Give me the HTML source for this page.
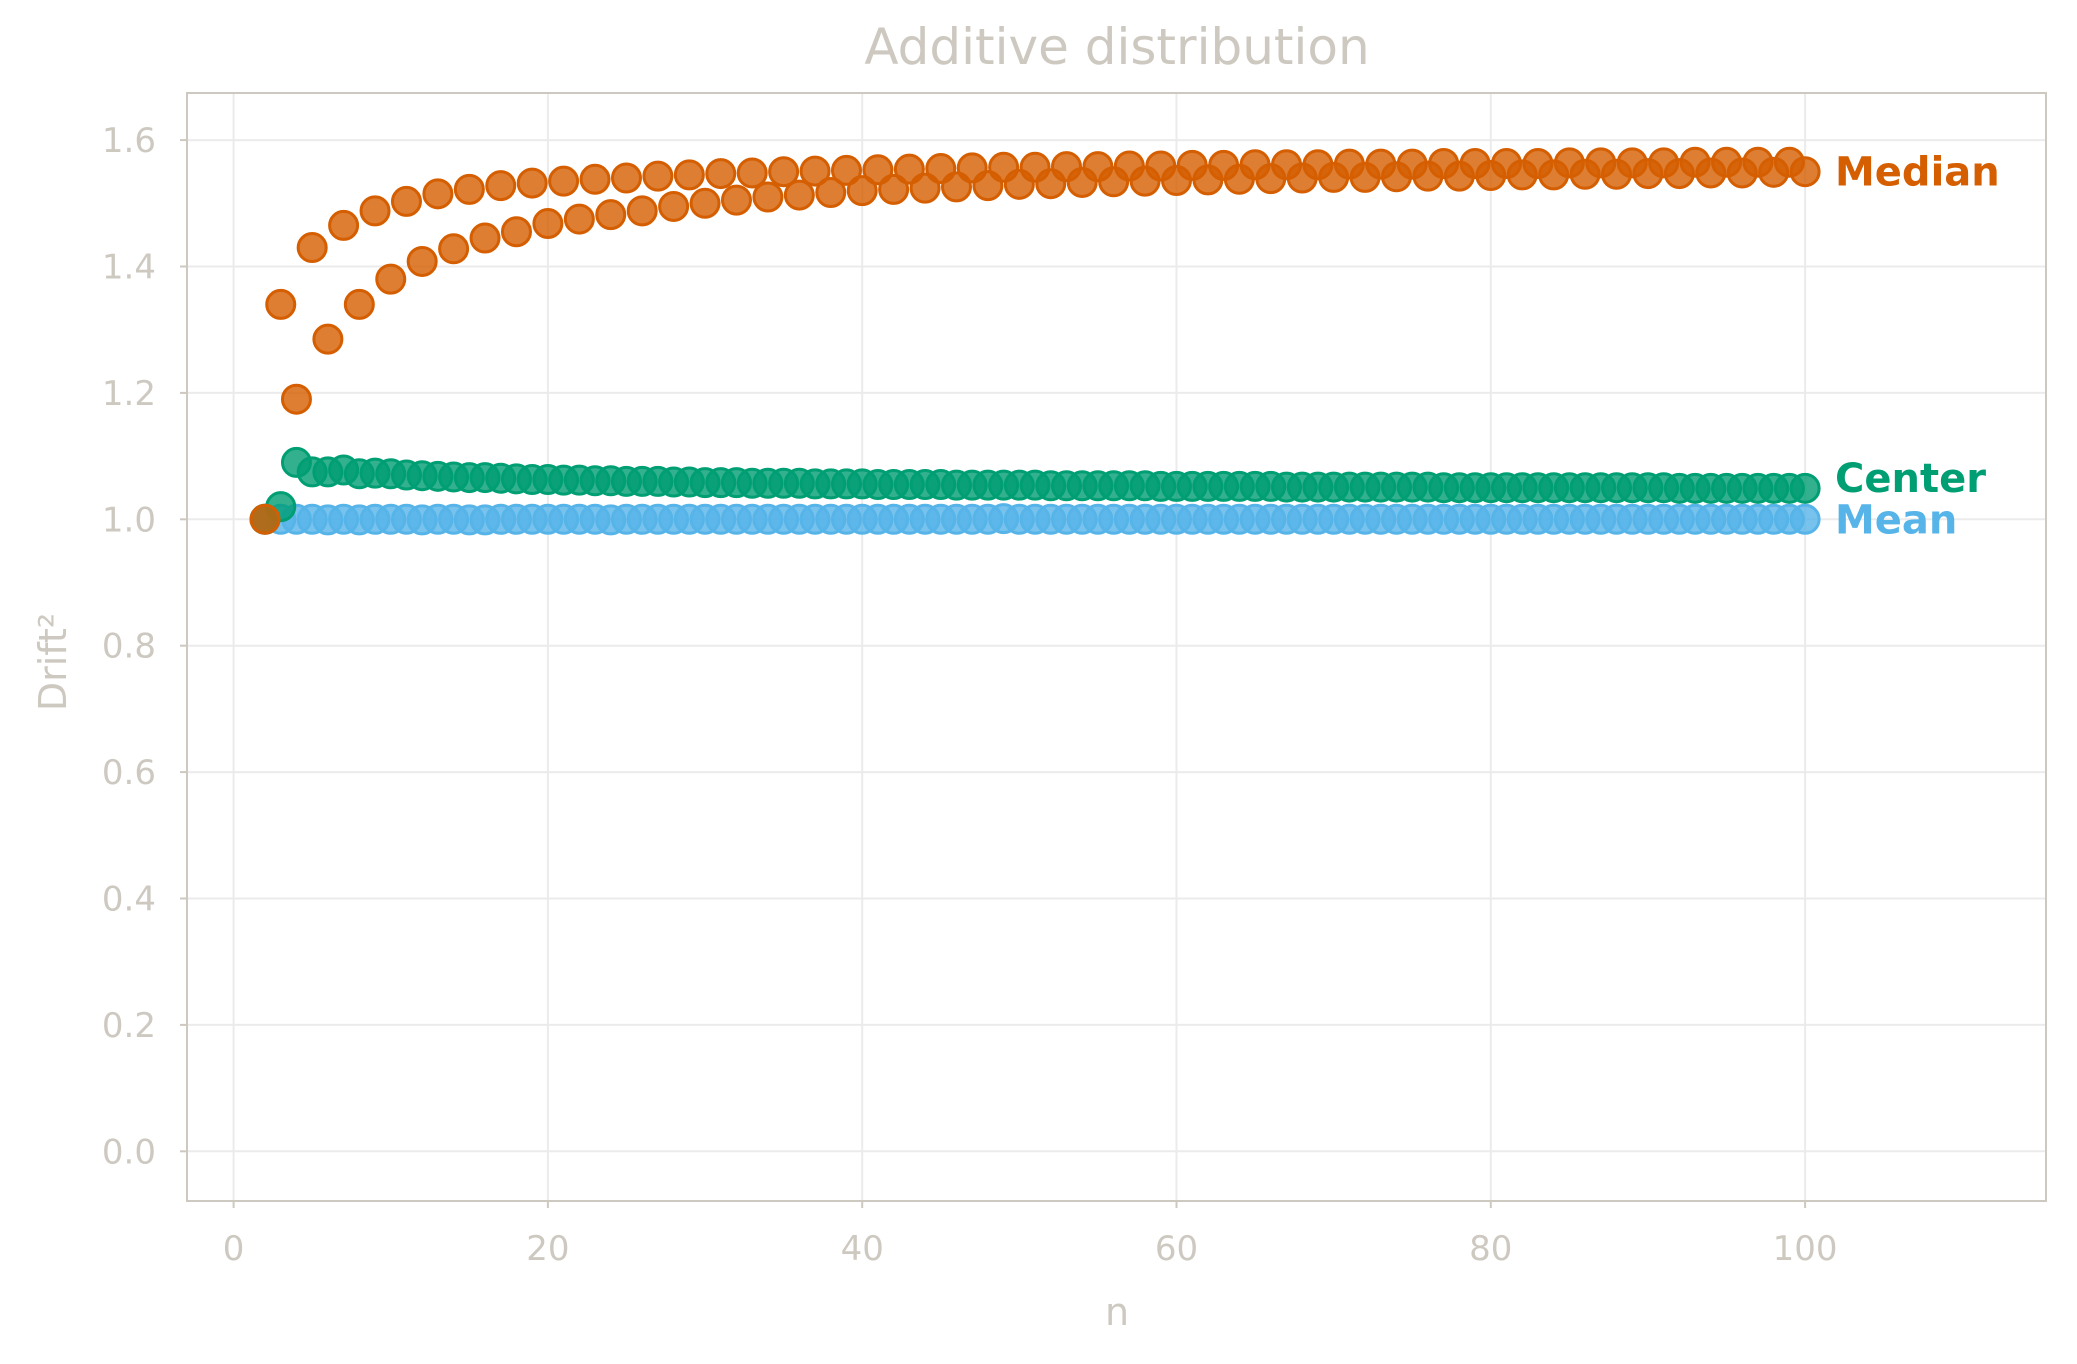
<!DOCTYPE html>
<html><head><meta charset="utf-8"><style>
html,body{margin:0;padding:0;background:#fff;}
svg{display:block;font-family:"DejaVu Sans","Liberation Sans",sans-serif;}
</style></head><body>
<svg id="chart" width="2077" height="1364" viewBox="0 0 2077 1364" xmlns="http://www.w3.org/2000/svg">
<rect x="0" y="0" width="2077" height="1364" fill="#fff"/>
<g id="grid"></g>
<g id="axes"></g>
<g id="marks"></g>
<text x="1117" y="64" text-anchor="middle" font-size="50" fill="#cdc9c0">Additive distribution</text>
<text x="1117" y="1325" text-anchor="middle" font-size="38" fill="#cdc9c0">n</text>
<text transform="translate(66,662) rotate(-90)" text-anchor="middle" font-size="38" fill="#cdc9c0">Drift²</text>
</svg>
<script>
const xTicks=[0,20,40,60,80,100];
const yTicks=[0.0,0.2,0.4,0.6,0.8,1.0,1.2,1.4,1.6];
const yTickLabels=["0.0","0.2","0.4","0.6","0.8","1.0","1.2","1.4","1.6"];
const medianEven=[1.0,1.19,1.285,1.34,1.38,1.408,1.428,1.445,1.455,1.468,1.475,1.482,1.488,1.495,1.50,1.505,1.51,1.513,1.517,1.52,1.522,1.524,1.526,1.528,1.53,1.531,1.533,1.534,1.535,1.536,1.537,1.538,1.539,1.54,1.541,1.541,1.542,1.543,1.543,1.544,1.545,1.545,1.546,1.546,1.547,1.547,1.548,1.548,1.549,1.55];
const medianOdd=[1.34,1.43,1.465,1.488,1.503,1.515,1.522,1.528,1.532,1.535,1.538,1.540,1.543,1.545,1.547,1.548,1.550,1.551,1.552,1.553,1.554,1.555,1.556,1.557,1.557,1.558,1.558,1.559,1.559,1.560,1.560,1.561,1.561,1.561,1.562,1.562,1.562,1.563,1.563,1.563,1.563,1.564,1.564,1.564,1.564,1.565,1.565,1.565,1.565];
const centerVals=[1.0,1.02,1.09,1.075,1.075,1.078,1.072,1.073,1.072,1.07,1.069,1.068,1.067,1.066,1.066,1.065,1.064,1.063,1.063,1.062,1.062,1.061,1.061,1.060,1.060,1.060,1.059,1.059,1.058,1.058,1.058,1.057,1.057,1.057,1.057,1.056,1.056,1.056,1.056,1.055,1.055,1.055,1.055,1.055,1.054,1.054,1.054,1.054,1.054,1.054,1.053,1.053,1.053,1.053,1.053,1.053,1.053,1.052,1.052,1.052,1.052,1.052,1.052,1.052,1.052,1.051,1.051,1.051,1.051,1.051,1.051,1.051,1.051,1.051,1.051,1.050,1.050,1.050,1.050,1.050,1.050,1.050,1.050,1.050,1.050,1.050,1.050,1.050,1.050,1.050,1.049,1.049,1.049,1.049,1.049,1.049,1.049,1.049,1.049];
const meanVals=[1.0,1.0,1.0,1.0,0.999,1.0,0.999,1.0,1.0,1.0,0.999,1.0,1.0,0.999,0.999,1.0,1.0,1.0,1.0,1.0,1.0,1.0,0.999,1.0,1.0,1.0,1.0,1.0,1.0,1.0,1.0,1.0,1.0,1.0,1.0,1.0,1.0,1.0,1.0,1.0,1.0,1.0,1.0,1.0,1.0,1.0,1.0,1.001,1.0,1.0,1.0,1.0,1.0,1.0,1.0,1.0,1.0,1.0,1.0,1.0,1.0,1.0,1.0,1.0,1.0,1.0,1.0,1.0,1.0,1.0,1.0,1.0,1.0,1.0,1.0,1.0,1.0,1.0,1.0,1.0,1.0,1.0,1.0,1.0,1.0,1.0,1.0,1.0,1.0,1.0,1.0,1.0,1.0,1.0,1.0,1.0,1.0,1.0,1.0];

const NS="http://www.w3.org/2000/svg";
const L=187,R=2046,T=93,B=1201;
function xs(v){return 233.6+v*15.715;}
function ys(v){return 1151.3-v*632;}
function mk(tag,attrs,parent){const e=document.createElementNS(NS,tag);for(const k in attrs)e.setAttribute(k,attrs[k]);parent.appendChild(e);return e;}
const grid=document.getElementById('grid'),axes=document.getElementById('axes'),marks=document.getElementById('marks');
xTicks.forEach(t=>{
  const g=mk('line',{x1:xs(t),x2:xs(t),y1:T,y2:B,stroke:'#ebebeb','stroke-width':2},grid);
  
  
  const tk=mk('line',{x1:xs(t),x2:xs(t),y1:B,y2:B+7,stroke:'#cdc9c0','stroke-width':2},axes);
  
  
  const tx=mk('text',{x:xs(t),y:B+59,'text-anchor':'middle','font-size':34,fill:'#cdc9c0'},axes);
  tx.textContent=String(t);
  
  
});
yTicks.forEach((t,i)=>{
  const g=mk('line',{x1:L,x2:R,y1:ys(t),y2:ys(t),stroke:'#ebebeb','stroke-width':2},grid);
  
  
  const tk=mk('line',{x1:L-7,x2:L,y1:ys(t),y2:ys(t),stroke:'#cdc9c0','stroke-width':2},axes);
  
  
  const tx=mk('text',{x:L-31,y:ys(t)+12,'text-anchor':'end','font-size':34,fill:'#cdc9c0'},axes);
  tx.textContent=yTickLabels[i];
  
  
});
const frame=mk('rect',{x:L,y:T,width:R-L,height:B-T,fill:'none',stroke:'#cdc9c0','stroke-width':2},axes);



function series(vals,color,name){
  const g=mk('g',{},marks);
  
  
  vals.forEach((v,i)=>{
    const c=mk('circle',{cx:xs(i+2),cy:ys(v),r:14,fill:color,'fill-opacity':0.8,stroke:color,'stroke-width':3},g);
    
    
  });
}
const medianVals=[];
for(let n=2;n<=100;n++){medianVals.push(n%2===0?medianEven[(n-2)/2]:medianOdd[(n-3)/2]);}
series(meanVals,'#56b4e9','mean');
series(centerVals,'#009e73','center');
series(medianVals,'#d55e00','median');

function label(txt,v,color,name){
  const t=mk('text',{x:1835,y:ys(v)+14,'font-size':40,'font-weight':'bold',fill:color},marks);
  t.textContent=txt;
  
  
}
label('Median',1.55,'#d55e00','median-label');
label('Center',1.065,'#009e73','center-label');
label('Mean',1.0,'#56b4e9','mean-label');
</script>
</body></html>
